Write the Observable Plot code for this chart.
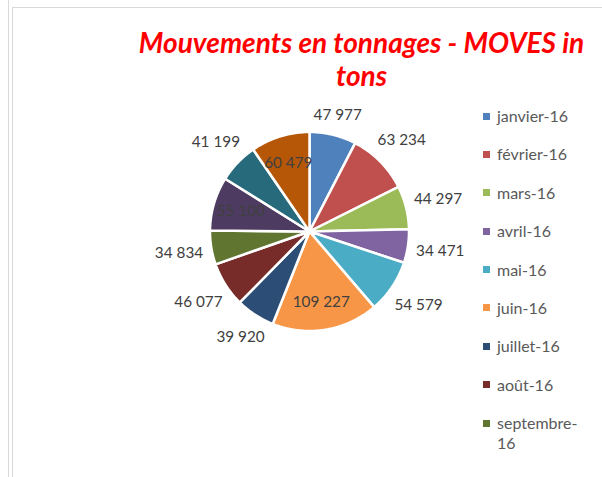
<!DOCTYPE html>
<html><head><meta charset="utf-8">
<script src="https://cdn.jsdelivr.net/npm/d3@7"></script>
<script src="https://cdn.jsdelivr.net/npm/@observablehq/plot@0.6"></script>
<style>
html,body{margin:0;padding:0;background:#fff;}
#wrap{position:relative;width:602px;height:477px;overflow:hidden;font-family:Lato,"Open Sans",sans-serif;background:#fff;}
.ln{position:absolute;background:#d9d9d9;}
#plot{position:absolute;left:0;top:0;}
#title{position:absolute;left:134px;width:455px;top:26px;text-align:center;color:#ff0000;font-weight:bold;font-style:italic;font-size:28px;line-height:33px;}
#legend{position:absolute;left:483px;top:106px;width:115px;height:350px;overflow:hidden;}
.item{position:relative;padding-left:14px;width:85px;font-size:16px;line-height:20px;color:#595959;margin-bottom:18.4px;}
.sw{position:absolute;left:0;top:6.5px;width:7px;height:7px;}
</style>
</head><body>
<div id="wrap">
  <div class="ln" style="left:8px;top:0;width:1px;height:477px;"></div>
  <div class="ln" style="left:12px;top:7px;width:1px;height:470px;"></div>
  <div class="ln" style="left:12px;top:7px;width:590px;height:1px;"></div>
  <div id="plot"></div>
  <div id="title"></div>
  <div id="legend"></div>
</div>
<script>
const months = ["janvier-16","février-16","mars-16","avril-16","mai-16","juin-16","juillet-16","août-16","septembre-16","octobre-16","novembre-16","décembre-16"];
const tonnages = [47977, 63234, 44297, 34471, 54579, 109227, 39920, 46077, 34834, 55100, 41199, 60479];
const colors = ["#4F81BD","#C0504D","#9BBB59","#8064A2","#4BACC6","#F79646","#2C4D75","#772C2A","#5F7530","#4D3B62","#276A7C","#B65708"];
const insideLabels = ["juin-16","octobre-16","décembre-16"];
const titleText = "Mouvements en tonnages - MOVES in tons";

const W = 602, H = 477, CX = 309, CY = 231, R = 99.5;
const data = months.map((m, i) => ({name: m, value: tonnages[i]}));
const arcs = d3.pie().sort(null).value(d => d.value)(data);

const pts = arcs.flatMap(a => {
  const name = a.data.name;
  const n = Math.max(2, Math.ceil((a.endAngle - a.startAngle) / 0.01));
  const p = [{name, x: 0, y: 0}];
  for (let k = 0; k <= n; k++) {
    const t = a.startAngle + (a.endAngle - a.startAngle) * k / n;
    p.push({name, x: Math.sin(t), y: Math.cos(t)});
  }
  p.push({name, x: 0, y: 0});
  return p;
});

const fr = d3.formatLocale({decimal: ",", thousands: "\u00a0", grouping: [3], currency: ["", "\u00a0€"]});
const fmt = fr.format(",d");

const labels = arcs.map(a => {
  const mid = (a.startAngle + a.endAngle) / 2;
  const s = Math.sin(mid), c = Math.cos(mid);
  const text = fmt(a.data.value);
  let r;
  if (insideLabels.includes(a.data.name)) r = 0.72;
  else r = (R + 6 + Math.abs(s) * text.length * 4.3 + Math.abs(c) * 8) / R;
  return {name: a.data.name, text, x: s * r, y: c * r};
});

const chart = Plot.plot({
  width: W, height: H, margin: 0,
  x: {domain: [-CX / R, (W - CX) / R], axis: null},
  y: {domain: [-(H - CY) / R, CY / R], axis: null},
  color: {domain: months, range: colors},
  style: {fontFamily: "Lato, 'Open Sans', sans-serif", background: "transparent"},
  marks: [
    Plot.line(pts, {x: "x", y: "y", z: "name", fill: "name", stroke: "white", strokeWidth: 2.5, curve: "linear"}),
    Plot.text(labels, {x: "x", y: "y", text: "text", fill: "#404040", fontSize: 15.3})
  ]
});
document.getElementById("plot").appendChild(chart);
document.getElementById("title").textContent = titleText;

const color = chart.scale("color");
const leg = document.getElementById("legend");
const legH = leg.clientHeight;
for (let i = 0; i < months.length; i++) {
  const it = document.createElement("div");
  it.className = "item";
  const sw = document.createElement("span");
  sw.className = "sw";
  sw.style.background = color.apply(months[i]);
  it.appendChild(sw);
  it.appendChild(document.createTextNode(months[i]));
  leg.appendChild(it);
  if (it.offsetTop + it.offsetHeight > legH) { leg.removeChild(it); break; }
}
</script>
</body></html>
